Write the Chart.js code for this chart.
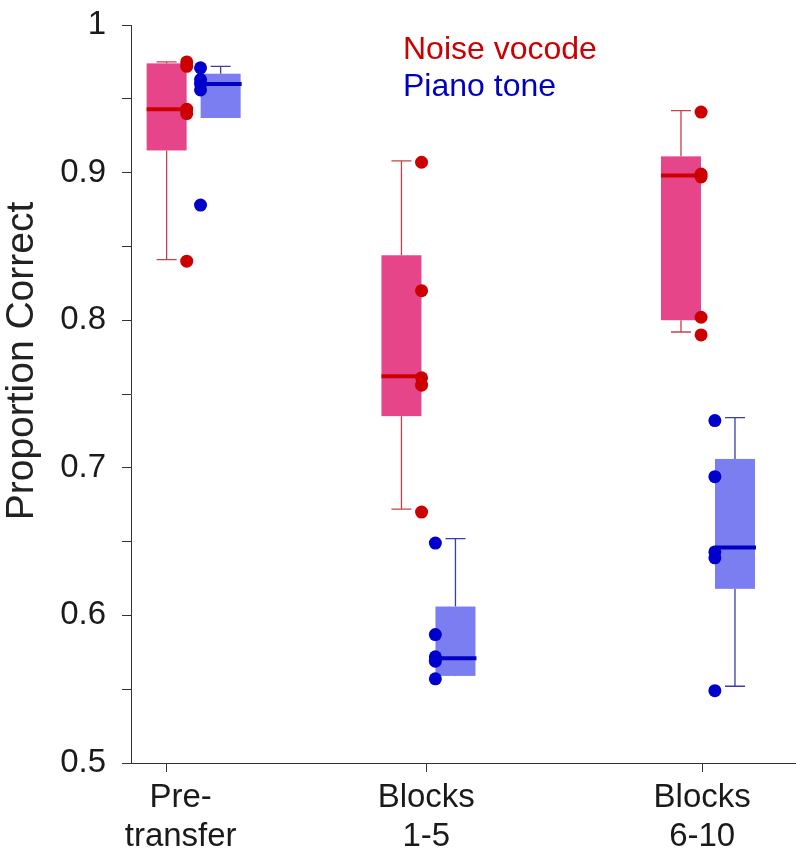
<!DOCTYPE html>
<html>
<head>
<meta charset="utf-8">
<script src="https://cdn.jsdelivr.net/npm/chart.js@4.4.0/dist/chart.umd.min.js"></script>
<style>
  html, body { margin: 0; padding: 0; background: #fff; }
  #wrap { width: 796px; height: 854px; }
</style>
</head>
<body>
<div id="wrap"><canvas id="chart" width="796" height="854"></canvas></div>
<script>
// categories on the x axis
const categories = [['Pre-', 'transfer'], ['Blocks', '1-5'], ['Blocks', '6-10']];
const seriesNames = ['Noise vocode', 'Piano tone'];
const yTitle = 'Proportion Correct';

// box stats, one value per category
const noiseLow    = [0.841, 0.672, 0.792];
const noiseQ1     = [0.915, 0.735, 0.800];
const noiseMedian = [0.943, 0.762, 0.898];
const noiseQ3     = [0.974, 0.844, 0.911];
const noiseHigh   = [0.975, 0.908, 0.942];

const pianoLow    = [0.938, 0.560, 0.552];
const pianoQ1     = [0.937, 0.559, 0.618];
const pianoMedian = [0.960, 0.571, 0.646];
const pianoQ3     = [0.967, 0.606, 0.706];
const pianoHigh   = [0.972, 0.652, 0.734];

// individual listeners
const noisePoints = [
  [0.975, 0.972, 0.943, 0.940, 0.840],
  [0.907, 0.820, 0.761, 0.756, 0.670],
  [0.941, 0.899, 0.897, 0.802, 0.790],
];
const pianoPoints = [
  [0.971, 0.963, 0.960, 0.956, 0.878],
  [0.649, 0.587, 0.572, 0.569, 0.557],
  [0.732, 0.694, 0.643, 0.639, 0.549],
];

// layout of the x axis (group centres, tick marks and label centres)
const groupX = [1.157, 2.008, 3.021];
const tickX = [1.06, 2.0, 3.0];
const labelX = [1.11, 2.0, 3.0];
const DOT_SHIFT = 0.025;

const FONT = '"Liberation Sans", Arial, Helvetica, sans-serif';
Chart.defaults.font.family = FONT;

const series = [
  { name: seriesNames[0], low: noiseLow, q1: noiseQ1, med: noiseMedian, q3: noiseQ3, high: noiseHigh,
    offset: -27, box: '#e6458a', median: '#cc0000', whisker: '#c8414b', text: '#cc0000' },
  { name: seriesNames[1], low: pianoLow, q1: pianoQ1, med: pianoMedian, q3: pianoQ3, high: pianoHigh,
    offset: 27, box: '#7b7ef0', median: '#0000c0', whisker: '#3c3ca8', text: '#0000c0' },
];

const boxPlugin = {
  id: 'boxes',
  beforeDatasetsDraw(chart) {
    const { ctx, scales: { x, y } } = chart;
    ctx.save();
    series.forEach(s => {
      groupX.forEach((gx, i) => {
        const cx = x.getPixelForValue(gx) + s.offset;
        const yLo = y.getPixelForValue(s.low[i]);
        const yHi = y.getPixelForValue(s.high[i]);
        const yQ1 = y.getPixelForValue(s.q1[i]);
        const yQ3 = y.getPixelForValue(s.q3[i]);
        const yMed = y.getPixelForValue(s.med[i]);

        ctx.strokeStyle = s.whisker;
        ctx.lineWidth = 1.3;
        ctx.beginPath();
        ctx.moveTo(cx, yHi); ctx.lineTo(cx, yQ3);
        ctx.moveTo(cx, yQ1); ctx.lineTo(cx, yLo);
        ctx.moveTo(cx - 10, yHi); ctx.lineTo(cx + 10, yHi);
        ctx.moveTo(cx - 10, yLo); ctx.lineTo(cx + 10, yLo);
        ctx.stroke();

        ctx.fillStyle = s.box;
        ctx.fillRect(cx - 20, yQ3, 40, yQ1 - yQ3);

        ctx.strokeStyle = s.median;
        ctx.lineWidth = 4;
        ctx.beginPath();
        ctx.moveTo(cx - 20, yMed); ctx.lineTo(cx + 21, yMed);
        ctx.stroke();
      });
    });
    ctx.restore();
  },
  afterDraw(chart) {
    const { ctx, chartArea } = chart;
    ctx.save();
    ctx.font = '32px ' + FONT;
    ctx.textAlign = 'left';
    ctx.textBaseline = 'alphabetic';
    series.forEach((s, k) => {
      ctx.fillStyle = s.text;
      ctx.fillText(s.name, chartArea.left + 272, 59 + k * 37);
    });
    ctx.fillStyle = '#222';
    ctx.font = '39px ' + FONT;
    ctx.translate(33, 361);
    ctx.rotate(-Math.PI / 2);
    ctx.textAlign = 'center';
    ctx.fillText(yTitle, 0, 0);
    ctx.restore();
  }
};

const dotData = (pts, shift) => pts.flatMap((vals, i) => vals.map(v => ({ x: groupX[i] + shift, y: v })));

new Chart(document.getElementById('chart'), {
  type: 'scatter',
  data: {
    datasets: [
      { label: seriesNames[0], data: dotData(noisePoints, -DOT_SHIFT),
        backgroundColor: '#cc0000', borderWidth: 0, pointRadius: 6.5 },
      { label: seriesNames[1], data: dotData(pianoPoints, DOT_SHIFT),
        backgroundColor: '#0000cc', borderWidth: 0, pointRadius: 6.5 },
    ],
  },
  options: {
    responsive: false,
    animation: false,
    devicePixelRatio: 1,
    layout: { autoPadding: false, padding: { top: 25, right: 0, bottom: 0, left: 0 } },
    plugins: { legend: { display: false }, tooltip: { enabled: false } },
    scales: {
      x: {
        type: 'linear', position: 'bottom', min: 0.93, max: 3.34, weight: 0,
        afterBuildTicks: axis => { axis.ticks = tickX.map(v => ({ value: v })); },
        afterFit: axis => { axis.height = 9; },
        ticks: { display: false },
        grid: { drawOnChartArea: false, drawTicks: true, tickLength: 9, color: '#333', lineWidth: 1 },
        border: { display: true, color: '#333', width: 1 },
      },
      xl: {
        type: 'linear', position: 'bottom', min: 0.93, max: 3.34, weight: 1,
        afterBuildTicks: axis => { axis.ticks = labelX.map(v => ({ value: v })); },
        afterFit: axis => { axis.height = 82; axis.paddingLeft = 0; axis.paddingRight = 0; },
        ticks: {
          autoSkip: false, maxRotation: 0, padding: 6, color: '#1a1a1a',
          font: { size: 33, lineHeight: 1.2 },
          callback: (v, i) => categories[i],
        },
        grid: { display: false, drawTicks: false },
        border: { display: false },
      },
      y: {
        min: 0.5, max: 1,
        afterFit: axis => { axis.width = 131; axis.paddingTop = 0; axis.paddingBottom = 0; },
        ticks: {
          stepSize: 0.05, autoSkip: false, padding: 16, color: '#1a1a1a',
          font: { size: 33 },
          callback: v => {
            const k = Math.round(v * 100);
            if (k % 10 !== 0) return '';
            return k === 100 ? '1' : (k / 100).toFixed(1);
          },
        },
        grid: { drawOnChartArea: false, drawTicks: true, tickLength: 9, color: '#333', lineWidth: 1 },
        border: { display: true, color: '#333', width: 1 },
      },
    },
  },
  plugins: [boxPlugin],
});
</script>
</body>
</html>
